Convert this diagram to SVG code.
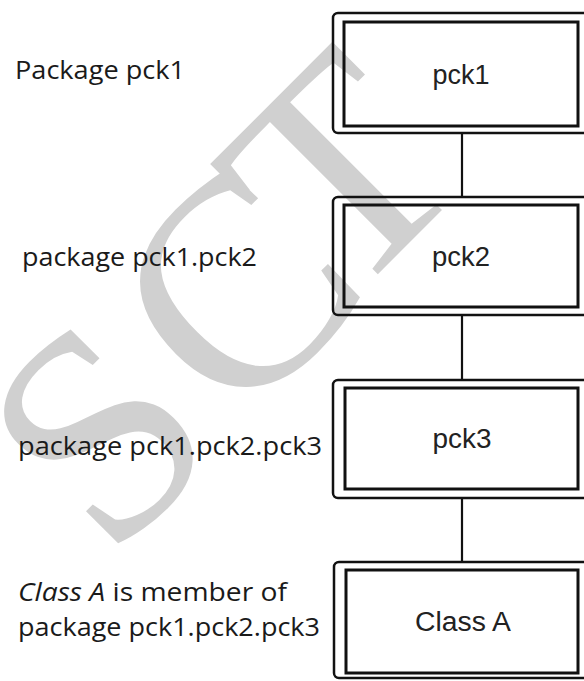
<svg xmlns="http://www.w3.org/2000/svg" width="584" height="681" viewBox="0 0 584 681">
<style>
.wm{font-family:"Liberation Serif","Times New Roman",serif;font-size:300px;fill:#d0d0d0;text-anchor:middle}
.outer{fill:none;stroke:#111;stroke-width:2.5}
.inner{fill:none;stroke:#111;stroke-width:3}
.name{font-family:"Liberation Sans",Arial,sans-serif;font-size:27px;fill:#222;text-anchor:middle}
.lbl{font-family:"Open Sans","DejaVu Sans",sans-serif;font-size:25px;fill:#1a1a1a}
.conn{stroke:#111;stroke-width:2.2;fill:none}
</style>
<rect width="584" height="681" fill="#fff"/>
<g id="watermark">
<text class="wm" transform="translate(98,434) rotate(-45)" x="0" y="99">S</text>
<text class="wm" transform="translate(236,290) rotate(-45)" x="0" y="99">C</text>
<text class="wm" transform="translate(340,172) rotate(-45)" x="0" y="99">T</text>
</g>
<g id="connectors">
<line class="conn" x1="462" y1="133" x2="462" y2="197"/>
<line class="conn" x1="462" y1="315" x2="462" y2="380"/>
<line class="conn" x1="462" y1="498" x2="462" y2="562"/>
</g>
<g id="pck1">
<rect class="outer" x="333" y="13" width="260" height="120" rx="5"/>
<rect class="inner" x="344" y="22" width="234" height="104"/>
<text class="name" x="461" y="84" textLength="57" lengthAdjust="spacingAndGlyphs">pck1</text>
</g>
<g id="pck2">
<rect class="outer" x="333" y="197" width="260" height="118" rx="5"/>
<rect class="inner" x="344" y="205" width="234" height="102"/>
<text class="name" x="461" y="266" textLength="58" lengthAdjust="spacingAndGlyphs">pck2</text>
</g>
<g id="pck3">
<rect class="outer" x="333" y="380" width="260" height="118" rx="5"/>
<rect class="inner" x="345" y="388" width="233" height="101"/>
<text class="name" x="462" y="448" textLength="59" lengthAdjust="spacingAndGlyphs">pck3</text>
</g>
<g id="classA">
<rect class="outer" x="334" y="562" width="260" height="116" rx="5"/>
<rect class="inner" x="346" y="570" width="232" height="103"/>
<text class="name" x="463" y="631" textLength="96" lengthAdjust="spacingAndGlyphs">Class A</text>
</g>
<g id="labels">
<text class="lbl" x="15" y="79" textLength="170" lengthAdjust="spacingAndGlyphs">Package pck1</text>
<text class="lbl" x="22" y="266" textLength="235" lengthAdjust="spacingAndGlyphs">package pck1.pck2</text>
<text class="lbl" x="18" y="455" textLength="304" lengthAdjust="spacingAndGlyphs">package pck1.pck2.pck3</text>
<text class="lbl" x="18" y="601" textLength="269" lengthAdjust="spacingAndGlyphs" font-style="italic">Class A <tspan font-style="normal">is member of</tspan></text>
<text class="lbl" x="18" y="636" textLength="302" lengthAdjust="spacingAndGlyphs">package pck1.pck2.pck3</text>
</g>
</svg>
